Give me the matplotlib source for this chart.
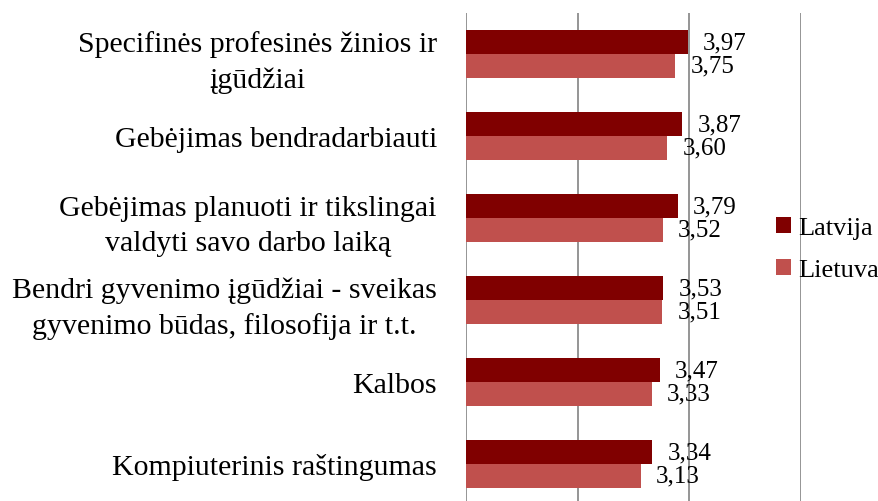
import matplotlib
matplotlib.use("Agg")
import matplotlib.pyplot as plt
import numpy as np

categories = [
    "Specifinės profesinės žinios ir\nįgūdžiai",
    "Gebėjimas bendradarbiauti",
    "Gebėjimas planuoti ir tikslingai\nvaldyti savo darbo laiką",
    "Bendri gyvenimo įgūdžiai - sveikas\ngyvenimo būdas, filosofija ir t.t.",
    "Kalbos",
    "Kompiuterinis raštingumas",
]
latvija = [3.97, 3.87, 3.79, 3.53, 3.47, 3.34]
lietuva = [3.75, 3.60, 3.52, 3.51, 3.33, 3.13]
series_names = ["Latvija", "Lietuva"]
colors = ["#800000", "#C0504D"]

plt.rcParams['font.family'] = ['Liberation Serif', 'DejaVu Serif']

W, H = 879, 502
fig = plt.figure(figsize=(W / 100, H / 100), dpi=100)
left_px, right_px, top_px, bottom_px = 466, 801, 14, 506
ax = fig.add_axes([left_px / W, 1 - bottom_px / H, (right_px - left_px) / W, (bottom_px - top_px) / H])

n = len(categories)
y = np.arange(n)
h = 0.29
b1 = ax.barh(y - h / 2, latvija, height=h, color=colors[0], label=series_names[0], zorder=3)
b2 = ax.barh(y + h / 2, lietuva, height=h, color=colors[1], label=series_names[1], zorder=3)

for bars, vals in ((b1, latvija), (b2, lietuva)):
    for bar, v in zip(bars, vals):
        ax.annotate(f"{v:.2f}".replace(".", ","), xy=(v, bar.get_y() + bar.get_height() / 2),
                    xytext=(11, 0), textcoords="offset points", ha="left", va="center",
                    fontsize=18, color="#000000", zorder=4)

ax.set_xlim(0, 6)
ax.set_ylim(n - 0.5, -0.5)
ax.set_xticks([0, 2, 4, 6])
ax.xaxis.grid(True, color="#8c8c8c", linewidth=1.3, zorder=0)
ax.tick_params(axis="x", length=0, labelbottom=False)
ax.tick_params(axis="y", length=0, pad=21)
ax.set_yticks(y)
ax.set_yticklabels(categories, fontsize=21.5, multialignment="center", linespacing=1.45)
for s in ax.spines.values():
    s.set_visible(False)

leg = fig.legend(handles=[b1, b2], labels=series_names, loc="center left",
                 bbox_to_anchor=(776 / W, 1 - 250 / H), frameon=False, fontsize=19,
                 borderpad=0, borderaxespad=0,
                 handlelength=0.58, handleheight=0.58, handletextpad=0.25, labelspacing=0.75)

fig.savefig("out.png", dpi=100)
